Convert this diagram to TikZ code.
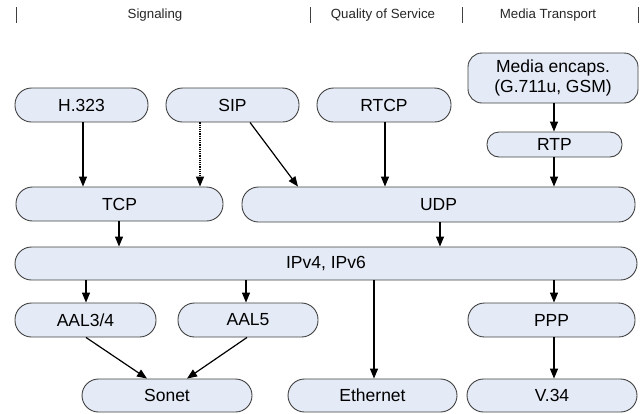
\documentclass[tikz,border=0pt]{standalone}
\usepackage{fontspec}
\setmainfont{Liberation Sans}
\usetikzlibrary{arrows.meta}
\definecolor{boxfill}{HTML}{E4EAF6}
\definecolor{boxline}{HTML}{404040}
\tikzset{
  box/.style={draw=boxline, fill=boxfill, line width=0.9pt, inner sep=0pt,
    align=center, font=\fontsize{17.5}{19.5}\selectfont},
  stad/.style={box, rounded corners=16.5pt},
  arr/.style={-{Triangle[length=10pt,width=8pt]}, line width=1.2pt, black},
  hdr/.style={font=\fontsize{13.3}{15}\selectfont, text=black!85},
  bar/.style={line width=0.9pt, black!75}
}
\begin{document}
\begin{tikzpicture}[x=1pt,y=-1pt]
\useasboundingbox (0,0) rectangle (644,413);
% header
\coordinate (b1t) at (16,7);  \coordinate (b1b) at (16,23);
\coordinate (b2t) at (310,7); \coordinate (b2b) at (310,23);
\coordinate (b3t) at (462,7); \coordinate (b3b) at (462,23);
\coordinate (b4t) at (638,7); \coordinate (b4b) at (638,23);
\draw[bar] (b1t) -- (b1b);
\draw[bar] (b2t) -- (b2b);
\draw[bar] (b3t) -- (b3b);
\draw[bar] (b4t) -- (b4b);
\node[hdr] (sig) at (155,15) {Signaling};
\node[hdr] (qos) at (383,15) {Quality of Service};
\node[hdr] (mt) at (548,15) {Media Transport};
% nodes
\node[stad, minimum width=133pt, minimum height=34pt] (h323) at (81.5,105) {H.323};
\node[stad, minimum width=133pt, minimum height=34pt] (sip) at (232.5,105) {SIP};
\node[stad, minimum width=134pt, minimum height=34pt] (rtcp) at (384,105) {RTCP};
\node[box, rounded corners=14pt, minimum width=170pt, minimum height=50pt] (media) at (553,78) {Media encaps.\\(G.711u, GSM)};
\node[box, rounded corners=12pt, minimum width=135pt, minimum height=25pt] (rtp) at (554.5,144.5) {RTP};
\node[stad, minimum width=207pt, minimum height=34pt] (tcp) at (119.5,204) {TCP};
\node[stad, minimum width=393pt, minimum height=35pt] (udp) at (438.5,204.5) {UDP};
\node[stad, minimum width=622pt, minimum height=33pt] (ip) at (326,263.5) {IPv4, IPv6};
\node[stad, minimum width=141pt, minimum height=34pt] (aal34) at (85.5,320) {AAL3/4};
\node[stad, minimum width=140pt, minimum height=34pt] (aal5) at (248,320) {AAL5};
\node[stad, minimum width=167pt, minimum height=34pt] (ppp) at (551.5,320) {PPP};
\node[stad, minimum width=170pt, minimum height=33pt] (sonet) at (167,395.5) {Sonet};
\node[stad, minimum width=169pt, minimum height=33pt] (eth) at (372.5,395.5) {Ethernet};
\node[stad, minimum width=170pt, minimum height=33pt] (v34) at (552,395.5) {V.34};
% connectors
\draw[arr] (h323.south -| 83,0) -- (tcp.north -| 83,0);
\draw[arr, densely dotted, line width=1.3pt] (sip.south -| 200,0) -- (tcp.north -| 200,0);
\draw[arr] (sip.south -| 250,0) -- (udp.north -| 298,0);
\draw[arr] (rtcp.south -| 385,0) -- (udp.north -| 385,0);
\draw[arr] (media.south -| 554,0) -- (rtp.north -| 554,0);
\draw[arr] (rtp.south -| 554,0) -- (udp.north -| 554,0);
\draw[arr] (tcp.south -| 119,0) -- (ip.north -| 119,0);
\draw[arr] (udp.south -| 440,0) -- (ip.north -| 440,0);
\draw[arr] (ip.south -| 86,0) -- (aal34.north -| 86,0);
\draw[arr] (ip.south -| 246,0) -- (aal5.north -| 246,0);
\draw[arr] (ip.south -| 374,0) -- (eth.north -| 374,0);
\draw[arr] (ip.south -| 554,0) -- (ppp.north -| 554,0);
\draw[arr] (ppp.south -| 554,0) -- (v34.north -| 554,0);
\draw[arr] (aal34.south -| 86,0) -- (sonet.north -| 147,0);
\draw[arr] (aal5.south -| 247,0) -- (sonet.north -| 187,0);
\end{tikzpicture}
\end{document}
